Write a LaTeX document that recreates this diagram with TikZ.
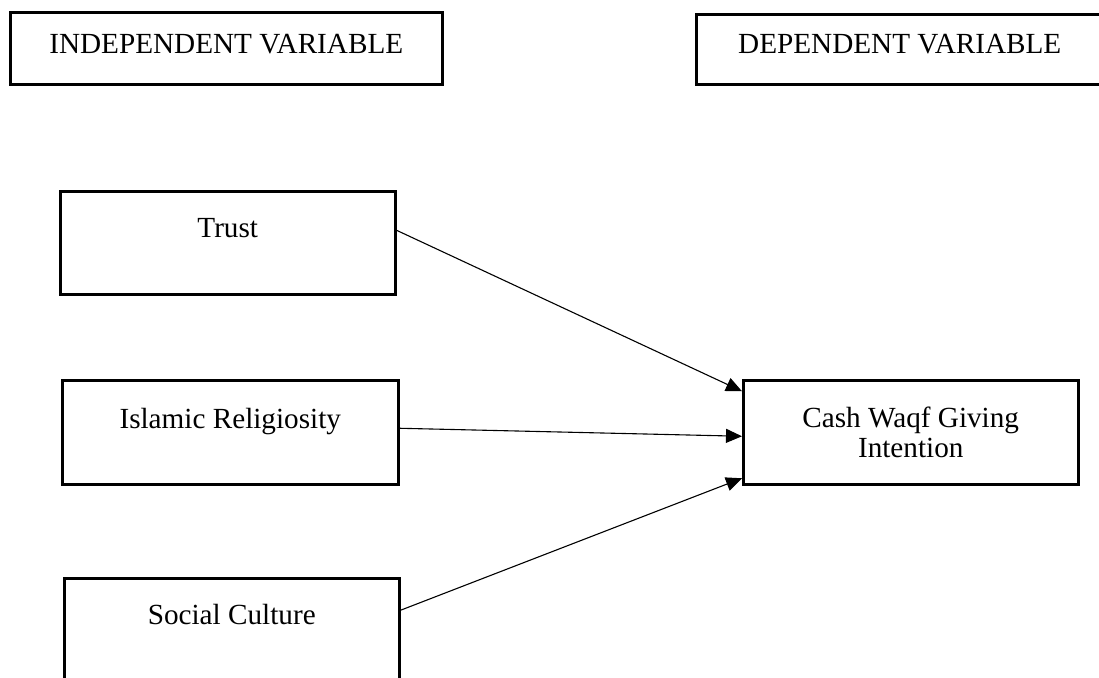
\documentclass[tikz,border=0pt]{standalone}
\usepackage{fontspec}
\setmainfont{Liberation Serif}
\usetikzlibrary{arrows.meta}
\tikzset{
  every picture/.style={font=\fontsize{14.6}{15}\selectfont},
  varbox/.style={draw=black,line width=1.25pt,inner sep=0pt,
    minimum width=167.5pt,anchor=north west},
  headbox/.style={varbox,minimum width=216pt},
  link/.style={draw=black,line width=0.55pt,
    -{Triangle[length=8pt,width=7pt]}},
}

\begin{document}
\begin{tikzpicture}[x=0.5pt,y=-0.5pt]
  \useasboundingbox (0,0) rectangle (1099,677);
  % headings
  \node[headbox,text height=20.5pt,text depth=15.5pt] (indep) at (9,11) {INDEPENDENT VARIABLE};
  \node[headbox,minimum width=203.5pt,text height=19.5pt,text depth=15.5pt] (dep) at (695,13) {DEPENDENT VARIABLE};
  % variables
  \node[varbox,text height=23pt,text depth=28.5pt] (trust) at (59,190) {Trust};
  \node[varbox,minimum width=168pt,text height=24pt,text depth=28pt] (relig) at (61,379) {Islamic Religiosity};
  \node[varbox,text height=23pt,text depth=29.5pt] (social) at (63,577) {Social Culture};
  \node[varbox,align=center,minimum height=52pt] (cash) at (742,379) {Cash Waqf Giving\\Intention};
  % paths
  \draw[link] ([yshift=6.25pt]trust.east) -- ([yshift=20.5pt]cash.west);
  \draw[link] ([yshift=2pt]relig.east) -- ([yshift=-2pt]cash.west);
  \draw[link] ([yshift=10.25pt]social.east) -- ([yshift=-23pt]cash.west);
\end{tikzpicture}
\end{document}
